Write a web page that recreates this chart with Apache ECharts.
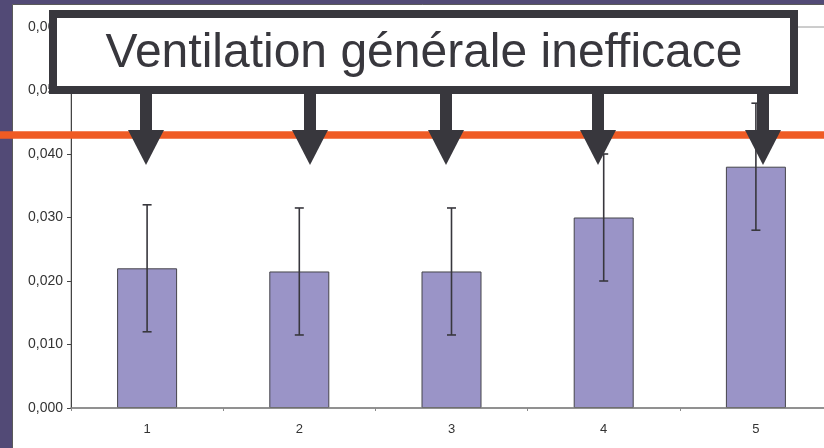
<!DOCTYPE html>
<html>
<head>
<meta charset="utf-8">
<script src="https://cdn.jsdelivr.net/npm/echarts@6/dist/echarts.min.js"></script>
<style>
html,body{margin:0;padding:0;background:#524A76;overflow:hidden;}
#c{width:832px;height:448px;}
</style>
</head>
<body>
<div id="c"></div>
<script>
// Data
const categories = ['1', '2', '3', '4', '5'];
const means = [0.022, 0.0215, 0.0215, 0.030, 0.038];
const errLow = [0.012, 0.0115, 0.0115, 0.020, 0.028];
const errHigh = [0.032, 0.0315, 0.0315, 0.040, 0.048];
const threshold = 0.043;
const titleText = 'Ventilation générale inefficace';
const yTicks = { min: 0, max: 0.06, interval: 0.01 };

const chart = echarts.init(document.getElementById('c'), null, { renderer: 'canvas' });
const dark = '#38373D';

const option = {
  animation: false,
  backgroundColor: 'transparent',
  grid: {
    left: 71, top: 27, right: 0, bottom: 40,
    show: true, borderColor: '#9a9a9a', borderWidth: 1, backgroundColor: 'transparent'
  },
  xAxis: {
    type: 'category',
    data: categories,
    axisLine: { lineStyle: { color: '#7d7d7d', width: 1.5 } },
    axisTick: { show: true, length: 3, lineStyle: { color: '#8a8a8a' } },
    axisLabel: { color: '#333', fontSize: 13, fontFamily: 'Liberation Sans, Arial', margin: 15 },
    z: 3
  },
  yAxis: {
    type: 'value',
    min: yTicks.min, max: yTicks.max, interval: yTicks.interval,
    splitLine: { show: false },
    axisLine: { show: true, lineStyle: { color: '#444', width: 1 } },
    axisTick: { show: true, length: 4, lineStyle: { color: '#444' } },
    axisLabel: {
      color: '#333', fontSize: 14, fontFamily: 'Liberation Sans, Arial', margin: 8,
      formatter: v => v.toFixed(3).replace('.', ',')
    }
  },
  series: [
    {
      type: 'bar',
      data: means,
      barWidth: 60,
      itemStyle: { color: '#9A94C7', borderColor: '#45444a', borderWidth: 1 },
      z: 2
    },
    {
      type: 'custom',
      data: categories.map((c, i) => [i, errLow[i], errHigh[i]]),
      z: 4,
      renderItem: function (params, api) {
        const lo = api.coord([api.value(0), api.value(1)]);
        const hi = api.coord([api.value(0), api.value(2)]);
        const cw = 4.5;
        const style = { stroke: '#38373D', lineWidth: 1.6 };
        return {
          type: 'group',
          children: [
            { type: 'line', shape: { x1: hi[0], y1: hi[1], x2: lo[0], y2: lo[1] }, style: style },
            { type: 'line', shape: { x1: hi[0] - cw, y1: hi[1], x2: hi[0] + cw, y2: hi[1] }, style: style },
            { type: 'line', shape: { x1: lo[0] - cw, y1: lo[1], x2: lo[0] + cw, y2: lo[1] }, style: style }
          ]
        };
      }
    }
  ]
};
chart.setOption(option);

// Threshold line spans the whole slide width; y from the value axis
const ty = chart.convertToPixel({ yAxisIndex: 0 }, threshold);

// arrows (annotation pointing from title box)
const arrowX = [146, 310, 446, 598, 763];
const arrows = [];
arrowX.forEach(x => {
  arrows.push({ type: 'rect', shape: { x: x - 6, y: 92, width: 12, height: 40 }, style: { fill: dark }, z: 30 });
  arrows.push({ type: 'polygon', shape: { points: [[x - 18, 130], [x + 18, 130], [x, 165]] }, style: { fill: dark }, z: 30 });
});

chart.setOption({
  graphic: [
    // white slide panel
    { type: 'rect', shape: { x: 12.5, y: 4.5, width: 830, height: 460 }, style: { fill: '#fff', stroke: '#5a5a5a', lineWidth: 1 }, z: -10, silent: true },
    // threshold line
    { type: 'rect', shape: { x: 0, y: ty - 3.8, width: 832, height: 7.6 }, style: { fill: '#EF5B24' }, z: 20 },
    // title box
    { type: 'rect', shape: { x: 53, y: 14, width: 741, height: 76 }, style: { fill: '#fff', stroke: dark, lineWidth: 8 }, z: 40 },
    { type: 'text', x: 424, y: 54, style: { text: titleText, fill: dark, font: '48px "Liberation Sans", Arial, sans-serif', align: 'center', verticalAlign: 'middle' }, z: 41 }
  ].concat(arrows)
});
</script>
</body>
</html>
